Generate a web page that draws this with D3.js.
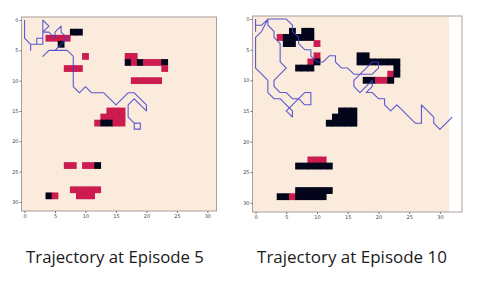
<!DOCTYPE html>
<html>
<head>
<meta charset="utf-8">
<script src="https://cdn.jsdelivr.net/npm/d3@7"></script>
<style>
  body { margin: 0; background: #fff; }
  svg { display: block; }
</style>
</head>
<body>
<div id="chart"></div>
<script>
// grid cell values: 1 = visited (crimson), 2 = obstacle (dark)
// each entry: [col, row, value]
var cells5 = [
  [8,2,2],[9,2,2],
  [4,3,1],[5,3,1],[6,3,1],[7,3,1],[6,4,2],
  [10,6,1],
  [7,8,1],[8,8,1],[9,8,1],
  [17,6,1],[18,6,1],
  [17,7,2],[18,7,1],[19,7,2],[20,7,1],[21,7,1],[22,7,1],[23,7,2],[23,8,1],
  [18,10,1],[19,10,1],[20,10,1],[21,10,1],[22,10,1],
  [14,15,1],[15,15,1],[16,15,1],
  [13,16,1],[14,16,1],[15,16,1],[16,16,1],
  [12,17,1],[13,17,2],[14,17,2],[15,17,1],[16,17,1],
  [7,24,1],[8,24,1],[10,24,1],[11,24,1],[12,24,2],
  [8,28,1],[9,28,1],[10,28,1],[11,28,1],[12,28,1],
  [4,29,2],[5,29,1],[9,29,1],[10,29,1],[11,29,1]
];
var cells10 = [
  [6,2,2],[8,2,2],[9,2,2],
  [4,3,1],[5,3,2],[6,3,2],[7,3,2],[8,3,2],[9,3,2],
  [5,4,2],[6,4,2],[10,4,1],
  [10,6,1],
  [9,7,1],[10,7,2],
  [7,8,2],[8,8,2],[9,8,2],
  [17,6,2],[18,6,2],
  [17,7,2],[18,7,2],[19,7,2],[20,7,2],[21,7,2],[22,7,2],[23,7,2],
  [23,8,2],[22,9,1],[23,9,2],
  [18,10,2],[19,10,2],[20,10,1],[21,10,1],[22,10,2],
  [14,15,2],[15,15,2],[16,15,2],
  [13,16,2],[14,16,2],[15,16,2],[16,16,2],
  [12,17,2],[13,17,2],[14,17,2],[15,17,2],[16,17,2],
  [9,23,1],[10,23,1],[11,23,1],
  [7,24,2],[8,24,2],[9,24,2],[10,24,2],[11,24,2],[12,24,2],
  [7,28,2],[8,28,2],[9,28,2],[10,28,2],[11,28,2],[12,28,2],
  [4,29,2],[5,29,2],[6,29,1],[7,29,2],[8,29,2],[9,29,2],[10,29,2],[11,29,2]
];
// agent trajectories, [col, row]
var path5 = [
  [0,0],[0,1],[0,2],[0,3],[1,4],[1,5],[1,4],[2,4],[2,3],[3,3],[3,4],[2,4],
  [3,4],[3,2],[3,1],[3,0],[4,1],[3,2],[4,2],[5,3],[5,2],[6,1],[6,2],[7,3],
  [6,4],[5,5],[4,5],[3,6],[4,5],[5,5],[6,5],[7,5],[8,6],[8,11],[9,12],
  [10,11],[11,12],[13,12],[14,13],[15,14],[16,13],[17,12],[18,12],[19,13],
  [20,14],[20,15],[19,14],[18,13],[17,14],[17,16],[18,17],[18,18],[19,18],
  [19,17],[18,17]
];
var path10 = [
  [0,0],[0,2],[0,1],[1,1],[2,0],[1,2],[0,3],[0,8],[1,9],[2,10],[2,12],
  [3,13],[4,13],[5,14],[6,15],[6,16],[5,15],[6,14],[7,13],[8,12],[9,12],
  [9,14],[8,14],[7,13],[6,13],[5,12],[4,12],[3,11],[3,10],[4,9],[5,8],
  [4,7],[4,4],[3,3],[3,2],[2,1],[2,0],[5,0],[6,1],[6,2],[7,3],[7,4],[8,5],
  [9,5],[9,6],[10,7],[11,7],[12,6],[13,6],[13,7],[14,8],[15,8],[16,9],
  [18,9],[19,9],[20,8],[20,7],[19,7],[18,8],[17,9],[16,10],[16,11],[17,12],
  [18,11],[19,10],[19,11],[18,12],[19,12],[20,13],[21,13],[21,14],[22,15],
  [23,14],[24,15],[25,16],[26,17],[27,17],[27,14],[28,15],[29,16],[29,17],
  [30,18],[32,16]
];
var xTicks = [0, 5, 10, 15, 20, 25, 30];
var yTicks = [0, 5, 10, 15, 20, 25, 30];
var titles = ["Trajectory at Episode 5", "Trajectory at Episode 10"];
var gridSize = 32;

var colors = ["#FAEBDD", "#CB1B4F", "#03051A"];

var W = 479, H = 294;
var svg = d3.select("#chart").append("svg")
  .attr("width", W).attr("height", H)
  .attr("viewBox", [0, 0, W, H]);

var panels = [
  {cells: cells5, path: path5, x0: 21.5, x1: 216.5, y0: 17, y1: 211, xMax: 31.5, cx: 115, title: titles[0], tw: 178},
  {cells: cells10, path: path10, x0: 252.5, x1: 462, y0: 16, y1: 212, xMax: 33.6, cx: 352, title: titles[1], tw: 190}
];

panels.forEach(function(p) {
  var x = d3.scaleLinear().domain([-0.5, p.xMax]).range([p.x0, p.x1]);
  var y = d3.scaleLinear().domain([-0.5, gridSize - 0.5]).range([p.y0, p.y1]);
  var g = svg.append("g");

  // background of the grid
  g.append("rect")
    .attr("x", x(-0.5)).attr("y", y(-0.5))
    .attr("width", x(gridSize - 0.5) - x(-0.5))
    .attr("height", y(gridSize - 0.5) - y(-0.5))
    .attr("fill", colors[0]);

  // cells overlap a little so no seams show between neighbours
  g.selectAll("rect.cell")
    .data(p.cells)
    .join("rect")
      .attr("class", "cell")
      .attr("x", d => x(d[0] - 0.5) - 0.35)
      .attr("y", d => y(d[1] - 0.5) - 0.35)
      .attr("width", x(1) - x(0) + 0.7)
      .attr("height", y(1) - y(0) + 0.7)
      .attr("fill", d => colors[d[2]]);

  var line = d3.line().x(d => x(d[0])).y(d => y(d[1]));
  g.append("path")
    .attr("d", line(p.path))
    .attr("fill", "none")
    .attr("stroke", "#4040cc")
    .attr("stroke-opacity", 0.85)
    .attr("stroke-width", 1.1)
    .attr("stroke-linejoin", "round");

  // frame
  g.append("rect")
    .attr("x", p.x0).attr("y", p.y0)
    .attr("width", p.x1 - p.x0).attr("height", p.y1 - p.y0)
    .attr("fill", "none")
    .attr("stroke", "#a9a09a")
    .attr("stroke-width", 1);

  var xAxis = d3.axisBottom(x).tickValues(xTicks).tickSize(2).tickPadding(1);
  var yAxis = d3.axisLeft(y).tickValues(yTicks).tickSize(2).tickPadding(1);
  var ax = g.append("g").attr("transform", "translate(0," + p.y1 + ")").call(xAxis);
  var ay = g.append("g").attr("transform", "translate(" + p.x0 + ",0)").call(yAxis);
  [ax, ay].forEach(function(a) {
    a.select(".domain").remove();
    a.selectAll("line").attr("stroke", "#777");
    a.selectAll("text").attr("fill", "#444").style("font-size", "5px")
      .style("font-family", "DejaVu Sans");
  });

  var t = svg.append("text")
    .attr("x", p.cx).attr("y", 263)
    .attr("text-anchor", "middle")
    .attr("fill", "#1a1a1a")
    .style("font-family", "Open Sans")
    .style("font-size", "16px")
    .text(p.title);
  var len = t.node().getComputedTextLength();
  t.style("font-size", (16 * p.tw / len).toFixed(2) + "px");
});
</script>
</body>
</html>
